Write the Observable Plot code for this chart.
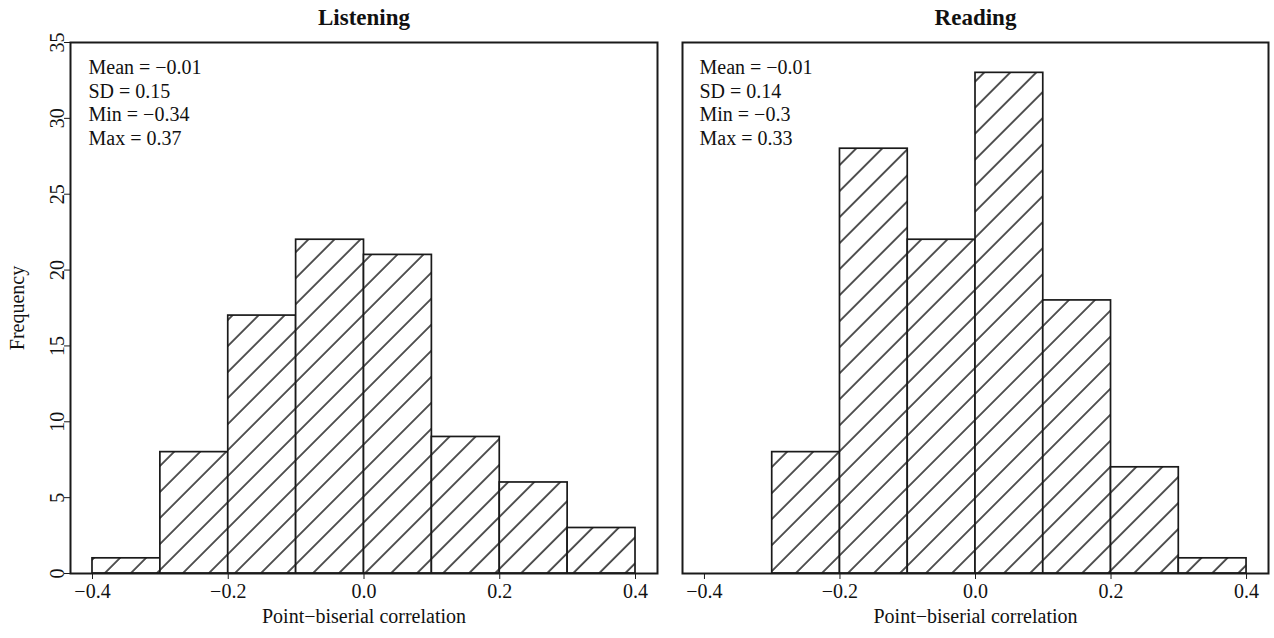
<!DOCTYPE html>
<html>
<head>
<meta charset="utf-8">
<script src="https://cdn.jsdelivr.net/npm/d3@7"></script>
<script src="https://cdn.jsdelivr.net/npm/@observablehq/plot@0.6"></script>
<style>
  html, body { margin: 0; padding: 0; background: #fff; }
  #chart { display: flex; flex-direction: row; width: 1274px; height: 638px; }
  svg { display: block; }
  #chart g[aria-label$="tick label"], #chart g[aria-label$="tick label"] text { font-size: 20px !important; font-family: "Liberation Serif", "Times New Roman", serif !important; }
</style>
</head>
<body>
<div id="chart"></div>
<script>
// ---- data ----
const binEdges = [-0.4, -0.3, -0.2, -0.1, 0.0, 0.1, 0.2, 0.3, 0.4];
const listeningCounts = [1, 8, 17, 22, 21, 9, 6, 3];
const readingCounts = [0, 8, 28, 22, 33, 18, 7, 1];
const statLabels = ["Mean", "SD", "Min", "Max"];
const listeningStats = [-0.01, 0.15, -0.34, 0.37];
const readingStats = [-0.01, 0.14, -0.3, 0.33];
const xTicks = [-0.4, -0.2, 0.0, 0.2, 0.4];
const yTicks = [0, 5, 10, 15, 20, 25, 30, 35];
const panelTitles = ["Listening", "Reading"];
const xLabel = "Point\u2212biserial correlation";
const yLabel = "Frequency";

const FONT = "Liberation Serif, Times New Roman, serif";
const FS = 20;
const fmtNum = v => String(v).replace("-", "\u2212");
const fmtTick = v => d3.format(".1f")(v).replace("-", "\u2212");

function binsFrom(counts) {
  return counts.map((c, i) => ({x1: binEdges[i], x2: binEdges[i + 1], y1: 0, y2: c})).filter(d => d.y2 > 0);
}

function panel({counts, stats, title, hatchId, width, marginLeft, marginRight, showY, textDx}) {
  const statText = statLabels.map((l, i) => `${l} = ${fmtNum(stats[i])}`).join("\n");
  const marks = [
    Plot.rect(binsFrom(counts), {x1: "x1", x2: "x2", y1: "y1", y2: "y2", fill: `url(#${hatchId})`, stroke: "#1a1a1a", strokeWidth: 1.7}),
    Plot.axisX({ticks: xTicks, tickFormat: fmtTick, tickSize: 6, tickPadding: 4.5, label: null, fontSize: FS, stroke: "#1a1a1a"}),
    Plot.text([title], {frameAnchor: "top", dy: -24.5, lineAnchor: "middle", fontWeight: "bold", fontSize: 23, fill: "#111"}),
    Plot.text([xLabel], {frameAnchor: "bottom", dy: 43, lineAnchor: "middle", fontSize: FS, fill: "#111"}),
    Plot.text([statText], {frameAnchor: "top-left", dx: textDx, dy: 14.5, lineAnchor: "top", textAnchor: "start", lineHeight: 1.185, fontSize: FS, fill: "#111"}),
    Plot.frame({stroke: "#1a1a1a", strokeWidth: 2})
  ];
  if (showY) {
    marks.push(Plot.axisY({ticks: yTicks, tickSize: 6, tickPadding: 1, tickRotate: -90, label: null, fontSize: FS, stroke: "#1a1a1a"}));
    marks.push(Plot.text([yLabel], {frameAnchor: "left", dx: -52.5, rotate: -90, lineAnchor: "middle", textAnchor: "middle", fontSize: FS, fill: "#111"}));
  }
  const svg = Plot.plot({
    width, height: 638,
    marginLeft, marginRight, marginTop: 42, marginBottom: 65,
    x: {domain: [-0.4324, 0.4324]},
    y: {domain: [0, 35], axis: showY ? undefined : null},
    style: {fontFamily: FONT, fontSize: FS + "px", color: "#111", background: "#fff"},
    marks
  });
  // hatch pattern definition
  const ns = "http://www.w3.org/2000/svg";
  const defs = document.createElementNS(ns, "defs");
  const pat = document.createElementNS(ns, "pattern");
  pat.setAttribute("id", hatchId);
  pat.setAttribute("patternUnits", "userSpaceOnUse");
  pat.setAttribute("width", "18.4");
  pat.setAttribute("height", "10");
  pat.setAttribute("patternTransform", "rotate(45)");
  const bg = document.createElementNS(ns, "rect");
  bg.setAttribute("width", "18.4"); bg.setAttribute("height", "10"); bg.setAttribute("fill", "#fff");
  const ln = document.createElementNS(ns, "line");
  ln.setAttribute("x1", "1"); ln.setAttribute("x2", "1"); ln.setAttribute("y1", "0"); ln.setAttribute("y2", "10");
  ln.setAttribute("stroke", "#1a1a1a"); ln.setAttribute("stroke-width", "1.5");
  pat.appendChild(bg); pat.appendChild(ln);
  defs.appendChild(pat);
  svg.insertBefore(defs, svg.firstChild);
  return svg;
}

const chart = document.getElementById("chart");
chart.appendChild(panel({counts: listeningCounts, stats: listeningStats, title: panelTitles[0], hatchId: "hatchL", width: 665, marginLeft: 70, marginRight: 8, showY: true, textDx: 18}));
chart.appendChild(panel({counts: readingCounts, stats: readingStats, title: panelTitles[1], hatchId: "hatchR", width: 609, marginLeft: 17, marginRight: 6, showY: false, textDx: 17}));
</script>
</body>
</html>
